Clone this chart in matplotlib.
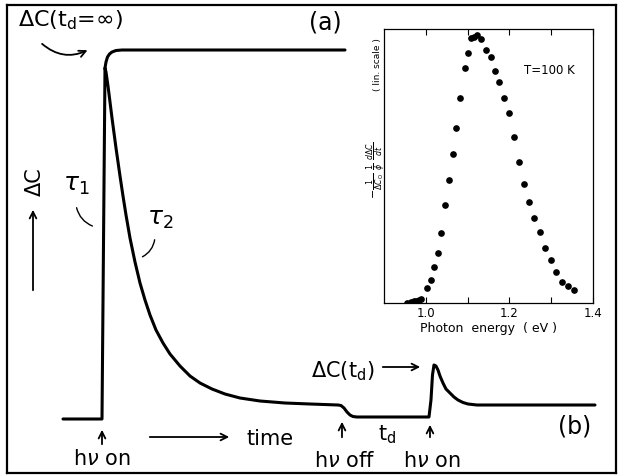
import matplotlib
matplotlib.use("Agg")
import matplotlib.pyplot as plt

# transient (b): time (arb. units) and capacitance change (arb. units)
t_b = [-3.9, 0.0, 0.3, 0.4, 0.6, 0.8, 1.0, 1.2, 1.4, 1.6, 1.8, 2.1, 2.4, 2.8, 3.3,
       3.8, 4.3, 4.8, 5.4, 6.1, 6.8, 7.8, 8.8, 9.8, 11.0, 12.3, 13.8, 15.8, 18.3,
       20.8, 23.6, 23.9, 24.2, 24.5, 24.8, 25.1, 25.5, 32.7, 32.9, 33.05, 33.2,
       33.4, 33.6, 33.8, 34.1, 34.4, 34.8, 35.2, 35.6, 36.1, 36.6, 37.5, 49.3]
dc_b = [0.0, 0.0, 35.1, 34.7, 33.3, 31.7, 30.1, 28.6, 27.1, 25.7, 24.3, 22.3, 20.4, 18.1, 15.7,
        13.6, 11.9, 10.4, 8.9, 7.6, 6.5, 5.3, 4.3, 3.6, 3.0, 2.5, 2.1, 1.8, 1.6,
        1.5, 1.4, 1.35, 1.1, 0.7, 0.4, 0.25, 0.2, 0.2, 1.9, 4.4, 5.4,
        5.3, 4.9, 4.3, 3.6, 3.0, 2.6, 2.2, 1.9, 1.65, 1.5, 1.4, 1.4]

# transient (a): saturation, t_d = infinity
t_a = [0.3, 0.4, 0.55, 0.75, 1.0, 1.4, 2.0, 24.3]
dc_a = [35.1, 35.7, 36.2, 36.5, 36.7, 36.85, 36.9, 36.9]

# inset: photon energy (eV) and normalised rate (lin. scale)
energy = [0.956, 0.964, 0.971, 0.977, 0.983, 0.988, 1.004, 1.013, 1.020, 1.030,
          1.037, 1.047, 1.055, 1.064, 1.073, 1.082, 1.093, 1.102, 1.109, 1.115,
          1.123, 1.132, 1.145, 1.155, 1.165, 1.176, 1.188, 1.199, 1.211, 1.222,
          1.235, 1.248, 1.259, 1.273, 1.284, 1.299, 1.311, 1.325, 1.340, 1.354]
rate = [0.0, 0.003, 0.006, 0.009, 0.012, 0.015, 0.057, 0.086, 0.133, 0.187,
        0.260, 0.364, 0.457, 0.556, 0.652, 0.762, 0.875, 0.932, 0.988, 0.990,
        0.999, 0.982, 0.942, 0.914, 0.865, 0.822, 0.764, 0.708, 0.619, 0.524,
        0.443, 0.376, 0.318, 0.264, 0.203, 0.159, 0.117, 0.078, 0.063, 0.047]
ticks_major = [1.0, 1.2, 1.4]
ticks_minor = [1.1, 1.3]

fig = plt.figure(figsize=(6.2, 4.76), dpi=100)

ax = fig.add_axes([0.0113, 0.0063, 0.9822, 0.9832])
ax.set_xlim(-9.5, 51.4)
ax.set_ylim(-5.4, 41.4)
ax.set_xticks([])
ax.set_yticks([])
for s in ax.spines.values():
    s.set_linewidth(1.6)

lw = 2.2
ax.plot(t_b, dc_b, color="black", lw=lw, solid_joinstyle="round", solid_capstyle="round")
ax.plot(t_a, dc_a, color="black", lw=lw, solid_joinstyle="round", solid_capstyle="round")

fs = 15
arr = dict(arrowstyle="->", lw=1.3, color="black", mutation_scale=12)

# labels on top
ax.text(-8.4, 39.9, "ΔC(t$_{\\rm d}$=∞)", fontsize=16, ha="left", va="center")
ax.annotate("", xy=(-1.2, 37.0), xytext=(-6.2, 37.7),
            arrowprops=dict(arr, connectionstyle="arc3,rad=0.35"))
ax.text(22.3, 39.6, "(a)", fontsize=17, ha="center", va="center")
ax.text(47.3, -0.7, "(b)", fontsize=17, ha="center", va="center")

# y label of the sketch
ax.text(-6.7, 23.7, "ΔC", fontsize=fs, rotation=90, ha="center", va="center")
ax.annotate("", xy=(-6.9, 21.2), xytext=(-6.9, 12.6), arrowprops=arr)

# time constants
ax.text(-2.6, 23.4, r"$\tau_1$", fontsize=18, ha="center", va="center")
ax.annotate("", xy=(-0.7, 19.2), xytext=(-2.6, 21.4),
            arrowprops=dict(arrowstyle="-", lw=1.0, connectionstyle="arc3,rad=0.3"))
ax.text(5.8, 20.0, r"$\tau_2$", fontsize=18, ha="center", va="center")
ax.annotate("", xy=(3.8, 16.1), xytext=(5.3, 18.2),
            arrowprops=dict(arrowstyle="-", lw=1.0, connectionstyle="arc3,rad=-0.3"))

# illumination marks
ax.annotate("", xy=(0.0, -0.8), xytext=(0.0, -2.8), arrowprops=arr)
ax.text(0.0, -4.6, r"h$\nu$ on", fontsize=fs, ha="center", va="baseline")
ax.annotate("", xy=(13.0, -1.8), xytext=(4.5, -1.8), arrowprops=arr)
ax.text(14.5, -2.6, "time", fontsize=fs, ha="left", va="baseline")
ax.annotate("", xy=(24.0, 0.0), xytext=(24.0, -2.1), arrowprops=arr)
ax.text(24.25, -4.8, r"h$\nu$ off", fontsize=fs, ha="center", va="baseline")
ax.text(28.5, -2.1, "t$_{\\rm d}$", fontsize=fs, ha="center", va="baseline")
ax.annotate("", xy=(32.8, -0.3), xytext=(32.8, -2.1), arrowprops=arr)
ax.text(33.0, -4.8, r"h$\nu$ on", fontsize=fs, ha="center", va="baseline")
ax.text(27.3, 4.2, "ΔC(t$_{\\rm d}$)", fontsize=fs, ha="right", va="baseline")
ax.annotate("", xy=(32.1, 5.2), xytext=(27.8, 5.2), arrowprops=arr)

# inset spectrum
ins = fig.add_axes([384 / 620, 173 / 476, 209 / 620, 274 / 476])
ins.plot(energy, rate, "o", color="black", ms=3.8)
ins.set_xlim(0.9, 1.4)
ins.set_ylim(0.0, 1.02)
ins.set_xticks(ticks_major)
ins.set_xticks(ticks_minor, minor=True)
ins.set_xticklabels(["1.0", "1.2", "1.4"])
ins.set_yticks([])
ins.tick_params(axis="x", which="both", direction="in", top=True, length=4,
                width=0.8, labelsize=8.5, pad=3)
for s in ins.spines.values():
    s.set_linewidth(0.9)
ins.set_xlabel("Photon  energy  ( eV )", fontsize=9, labelpad=1)
ins.text(0.79, 0.85, "T=100 K", fontsize=8.5, ha="center", va="center",
         transform=ins.transAxes)
ins.text(-0.033, 0.485,
         r"$-\frac{1}{\Delta C_{\rm O}}\ \frac{1}{\phi}\ \frac{d\Delta C}{dt}$",
         fontsize=8, rotation=90, ha="center", va="center", transform=ins.transAxes)
ins.text(-0.033, 0.869, "( lin. scale )", fontsize=6.5, rotation=90,
         ha="center", va="center", transform=ins.transAxes)

fig.savefig("out.png", dpi=100)
